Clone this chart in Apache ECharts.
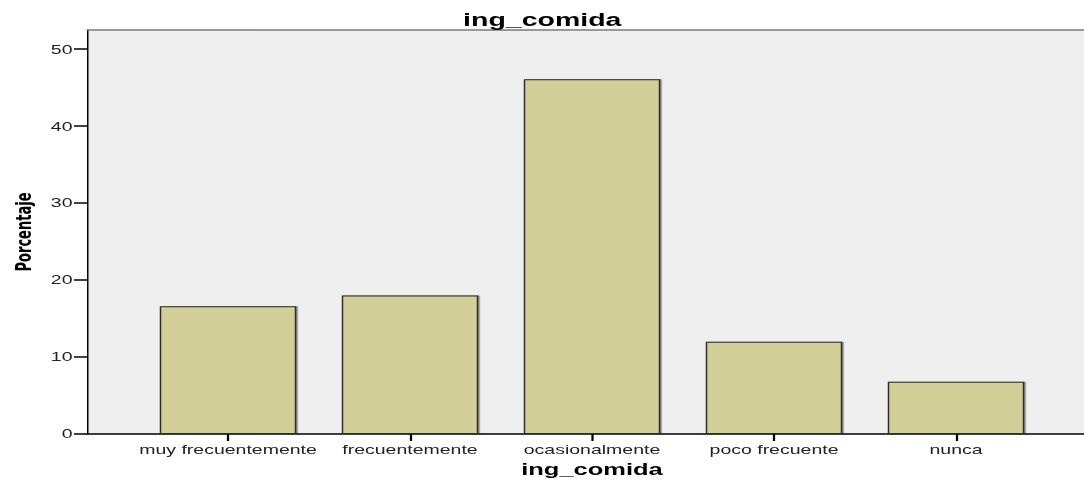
<!DOCTYPE html>
<html>
<head>
<meta charset="utf-8">
<script src="https://cdn.jsdelivr.net/npm/echarts@6/dist/echarts.min.js"></script>
<style>
  html, body { margin: 0; padding: 0; background: #fff; overflow: hidden; }
  /* the reference is stretched sideways, so the chart is drawn narrow and widened */
  #chart { width: 722.67px; height: 480px; transform: scaleX(1.5); transform-origin: 0 0; }
</style>
</head>
<body>
<div id="chart"></div>
<script>
  var categories = ['muy frecuentemente', 'frecuentemente', 'ocasionalmente', 'poco frecuente', 'nunca']
  var percentages = [16.6, 18.0, 46.1, 12.0, 6.8]
  var yTicks = [0, 10, 20, 30, 40, 50]
  var yMax = 52.5

  var font = "'Liberation Sans', Arial, sans-serif"
  var myChart = echarts.init(document.getElementById('chart'), null, { renderer: 'svg' })

  myChart.setOption({
    animation: false,
    title: {
      text: 'ing_comida',
      left: 'center',
      top: 5,
      textStyle: { fontFamily: font, fontSize: 19, fontWeight: 'bold', color: '#000' }
    },
    grid: [
      // plot background
      { left: 58.33, right: 0, top: 30, bottom: 46, show: true, backgroundColor: '#efefef', borderWidth: 0, outerBoundsMode: 'none' },
      // bar bands
      { left: 91.33, width: 606.67, top: 30, bottom: 46, outerBoundsMode: 'none' }
    ],
    xAxis: [
      {
        gridIndex: 0, type: 'value', min: 0, max: 1, position: 'bottom',
        axisLine: { show: true, lineStyle: { color: '#000', width: 1.5 } },
        axisTick: { show: false }, axisLabel: { show: false }, splitLine: { show: false }
      },
      {
        gridIndex: 0, type: 'value', min: 0, max: 1, position: 'top',
        axisLine: { show: true, lineStyle: { color: '#7a7a7a', width: 1.5 } },
        axisTick: { show: false }, axisLabel: { show: false }, splitLine: { show: false }
      },
      {
        gridIndex: 1, type: 'category', data: categories,
        name: 'ing_comida', nameLocation: 'middle', nameGap: 26,
        nameTextStyle: { fontFamily: font, fontSize: 17, fontWeight: 'bold', color: '#000' },
        axisLine: { show: false },
        axisTick: { show: true, alignWithLabel: true, length: 7, lineStyle: { color: '#000', width: 1.5 } },
        axisLabel: { interval: 0, fontFamily: font, fontSize: 13, color: '#222', margin: 9 }
      }
    ],
    yAxis: [
      {
        gridIndex: 0, type: 'value', min: 0, max: yMax,
        name: 'Porcentaje', nameLocation: 'middle', nameGap: 33,
        nameTextStyle: { fontFamily: "'Liberation Sans Narrow', 'DejaVu Sans Condensed', sans-serif", fontSize: 14.5, fontWeight: 'bold', color: '#000' },
        axisLine: { show: true, lineStyle: { color: '#000', width: 1 } },
        axisTick: { show: true, length: 9, customValues: yTicks, lineStyle: { color: '#000', width: 1.5 } },
        axisLabel: { fontFamily: font, fontSize: 13, color: '#222', margin: 10, customValues: yTicks },
        splitLine: { show: false }
      },
      { gridIndex: 1, type: 'value', min: 0, max: yMax, show: false }
    ],
    series: [
      {
        type: 'bar',
        xAxisIndex: 2,
        yAxisIndex: 1,
        barWidth: 91,
        data: percentages,
        itemStyle: {
          color: '#d3cf98',
          borderColor: '#2e2e2e',
          borderWidth: 1,
          shadowColor: 'rgba(0, 0, 0, 0.45)',
          shadowOffsetX: 1,
          shadowBlur: 1
        }
      }
    ]
  })
</script>
</body>
</html>
